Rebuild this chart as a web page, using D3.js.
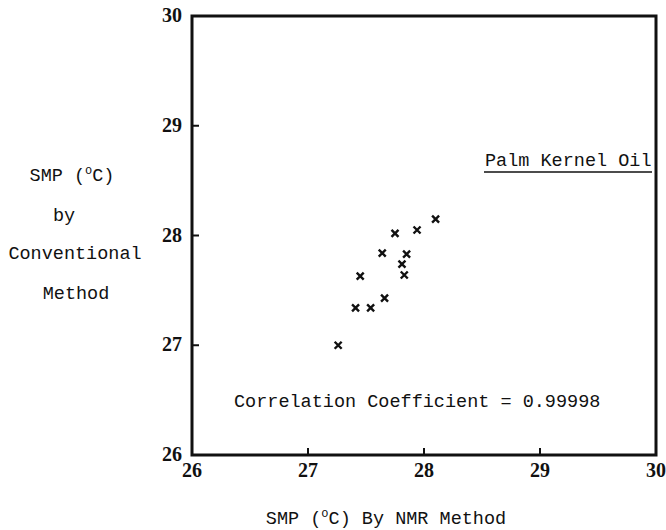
<!DOCTYPE html>
<html>
<head>
<meta charset="utf-8">
<script src="https://cdn.jsdelivr.net/npm/d3@7"></script>
<style>
  body { margin: 0; background: #fff; }
  .mono { font-family: "Liberation Mono", "DejaVu Sans Mono", monospace; font-size: 18.5px; fill: #111; }
  .tick-label { font-family: "Liberation Serif", serif; font-weight: bold; font-size: 20px; fill: #111; }
</style>
</head>
<body>
<svg class="chart" width="666" height="530"></svg>
<script>
// SMP by NMR (x) vs by conventional method (y), palm kernel oil
var nmrSmp = [27.26, 27.41, 27.54, 27.66, 27.45, 27.83, 27.81, 27.85, 27.64, 27.75, 27.94, 28.10];
var convSmp = [27.00, 27.34, 27.34, 27.43, 27.63, 27.64, 27.74, 27.83, 27.84, 28.02, 28.05, 28.15];
var xTicks = [26, 27, 28, 29, 30];
var yTicks = [26, 27, 28, 29, 30];

var svg = d3.select(".chart");

var x = d3.scaleLinear().domain([26, 30]).range([192, 656]),
    y = d3.scaleLinear().domain([26, 30]).range([455, 16]);

// frame
svg.append("rect")
    .attr("x", x(26)).attr("y", y(30))
    .attr("width", x(30) - x(26)).attr("height", y(26) - y(30))
    .attr("fill", "none").attr("stroke", "#111").attr("stroke-width", 3);

// inner ticks
svg.append("g").selectAll("line")
    .data(xTicks.slice(1, -1))
    .enter().append("line")
    .attr("x1", function(d) { return x(d); }).attr("x2", function(d) { return x(d); })
    .attr("y1", y(26)).attr("y2", y(26) - 7)
    .attr("stroke", "#111").attr("stroke-width", 2);

svg.append("g").selectAll("line")
    .data(yTicks.slice(1, -1))
    .enter().append("line")
    .attr("x1", x(26)).attr("x2", x(26) + 7)
    .attr("y1", function(d) { return y(d); }).attr("y2", function(d) { return y(d); })
    .attr("stroke", "#111").attr("stroke-width", 2);

// tick labels
svg.append("g").selectAll("text")
    .data(xTicks)
    .enter().append("text")
    .attr("class", "tick-label")
    .attr("x", function(d) { return x(d); })
    .attr("y", 477)
    .attr("text-anchor", "middle")
    .text(function(d) { return d; });

svg.append("g").selectAll("text")
    .data(yTicks)
    .enter().append("text")
    .attr("class", "tick-label")
    .attr("x", 182)
    .attr("y", function(d) { return y(d) + 6; })
    .attr("text-anchor", "end")
    .text(function(d) { return d; });

// points as small crosses
svg.append("g").selectAll("path")
    .data(nmrSmp.map(function(v, i) { return [v, convSmp[i]]; }))
    .enter().append("path")
    .attr("transform", function(d) { return "translate(" + x(d[0]) + "," + y(d[1]) + ")"; })
    .attr("d", "M-3.5,-3.5L3.5,3.5M3.5,-3.5L-3.5,3.5")
    .attr("stroke", "#111").attr("stroke-width", 2.4);

// labels
svg.append("text").attr("class", "mono")
    .attr("x", 485).attr("y", 166)
    .text("Palm Kernel Oil");
svg.append("line")
    .attr("x1", 484).attr("x2", 652).attr("y1", 172).attr("y2", 172)
    .attr("stroke", "#111").attr("stroke-width", 1.5);

svg.append("text").attr("class", "mono")
    .attr("x", 234).attr("y", 407)
    .text("Correlation Coefficient = 0.99998");

// y title
var yt = svg.append("g").attr("class", "mono").attr("text-anchor", "middle");
var t1 = yt.append("text").attr("x", 72).attr("y", 181);
t1.append("tspan").text("SMP (");
t1.append("tspan").attr("dy", -7).style("font-size", "12px").text("o");
t1.append("tspan").attr("dy", 7).text("C)");
yt.append("text").attr("x", 64).attr("y", 221).text("by");
yt.append("text").attr("x", 75).attr("y", 259).text("Conventional");
yt.append("text").attr("x", 76).attr("y", 299).text("Method");

// x title
var xt = svg.append("text").attr("class", "mono")
    .attr("x", 386).attr("y", 524).attr("text-anchor", "middle");
xt.append("tspan").text("SMP (");
xt.append("tspan").attr("dy", -7).style("font-size", "12px").text("o");
xt.append("tspan").attr("dy", 7).text("C) By NMR Method");
</script>
</body>
</html>
